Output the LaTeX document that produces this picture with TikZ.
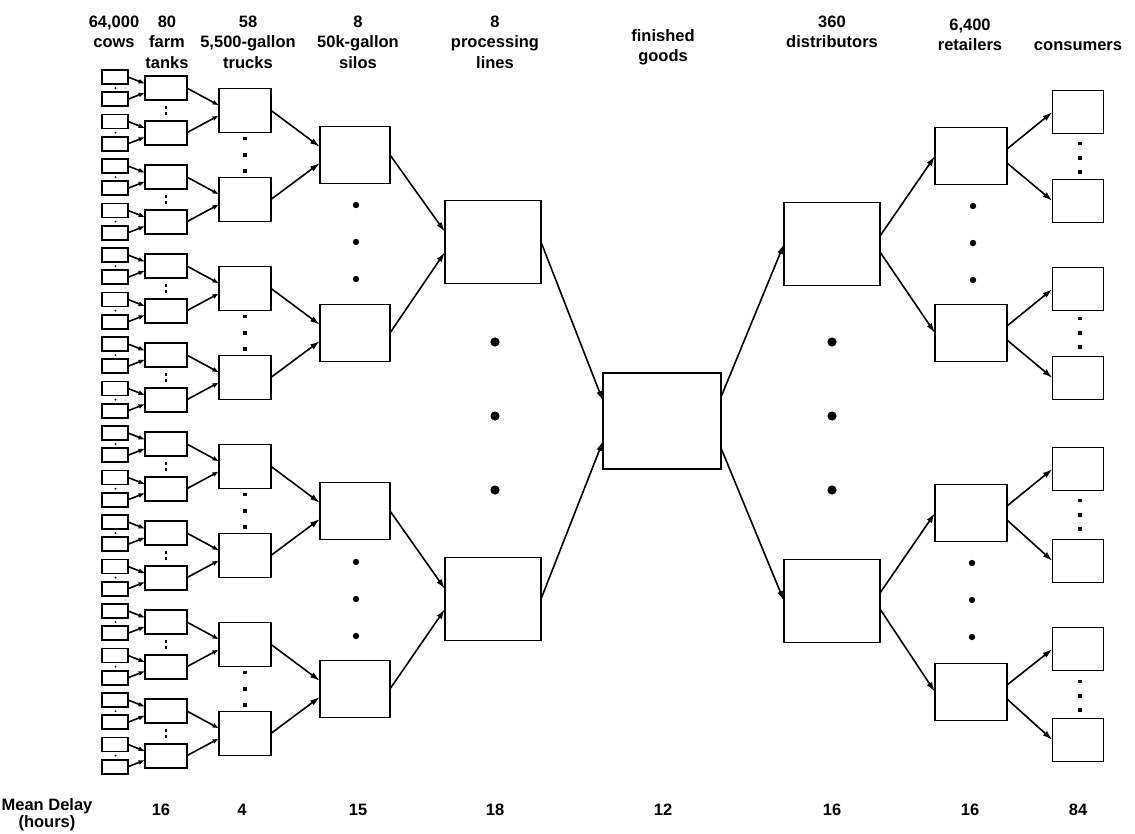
\documentclass[tikz,border=0pt]{standalone}
\usepackage{fontspec}
\setmainfont{Liberation Sans}
\usetikzlibrary{arrows.meta}
\begin{document}
\begin{tikzpicture}[x=1pt,y=-1pt,
  box/.style={draw,line width=1.8pt,inner sep=0pt,outer sep=0pt,fill=white},
  cowbox/.style={box,line width=1.6pt,minimum width=26pt,minimum height=14pt},
  tankbox/.style={box,minimum width=42pt,minimum height=24pt},
  truckbox/.style={box,minimum width=52pt,minimum height=44pt},
  silobox/.style={box,minimum width=70pt,minimum height=57pt},
  linebox/.style={box,minimum width=96pt,minimum height=83pt},
  goodsbox/.style={box,minimum width=118pt,minimum height=96pt},
  retbox/.style={box,minimum width=72pt,minimum height=57pt},
  consbox/.style={box,minimum width=51pt,minimum height=43pt},
  arrS/.style={line width=1.6pt,-{Latex[length=6.5pt,width=5pt]}},
  arr/.style={line width=1.6pt,-{Latex[length=10pt,width=6pt]}},
  lbl/.style={font=\fontsize{16.5}{20}\selectfont\bfseries,anchor=base,inner sep=0pt},
]
\useasboundingbox (0,0) rectangle (1135,833);

% ---------- left tree ----------
\foreach \i in {0,...,31} {
  \pgfmathsetmacro\cy{77+22.25*\i}
  \node[cowbox] (cow\i) at (115,\cy) {};
}
\foreach \j in {0,...,15} {
  \pgfmathsetmacro\ty{88.1+44.5*\j}
  \pgfmathtruncatemacro\a{2*\j}
  \pgfmathtruncatemacro\b{2*\j+1}
  \node[tankbox] (tank\j) at (166,\ty) {};
  \draw[arrS] (cow\a.east) -- ([yshift=4.5pt]tank\j.west);
  \draw[arrS] (cow\b.east) -- ([yshift=-4.5pt]tank\j.west);
  \fill (115.5,\ty) circle (1.1pt);
}
\foreach \k in {0,...,7} {
  \pgfmathsetmacro\ky{110.4+89*\k}
  \pgfmathtruncatemacro\a{2*\k}
  \pgfmathtruncatemacro\b{2*\k+1}
  \node[truckbox] (truck\k) at (245,\ky) {};
  \draw[arrS] (tank\a.east) -- ([yshift=5pt]truck\k.west);
  \draw[arrS] (tank\b.east) -- ([yshift=-5pt]truck\k.west);
  \fill (164.6,\ky-4.4) rectangle +(2.8,2.8);
  \fill (164.6,\ky+1.6) rectangle +(2.8,2.8);
}
\foreach \m in {0,...,3} {
  \pgfmathsetmacro\my{154.9+178*\m}
  \pgfmathtruncatemacro\a{2*\m}
  \pgfmathtruncatemacro\b{2*\m+1}
  \node[silobox] (silo\m) at (355,\my) {};
  \draw[arr] (truck\a.east) -- ([yshift=8pt]silo\m.west);
  \draw[arr] (truck\b.east) -- ([yshift=-8pt]silo\m.west);
  \foreach \d in {-16.5,0,16} {
    \fill (243.2,\my+\d-1.8) rectangle +(3.6,3.6);
  }
}
\foreach \n/\ny in {0/242,1/599} {
  \pgfmathtruncatemacro\a{2*\n}
  \pgfmathtruncatemacro\b{2*\n+1}
  \node[linebox] (proc\n) at (493,\ny) {};
  \draw[arr] (silo\a.east) -- ([yshift=10pt]proc\n.west);
  \draw[arr] (silo\b.east) -- ([yshift=-10pt]proc\n.west);
  \foreach \d in {-37,0,37} {
    \fill (356,\ny+\d) circle (3.2pt);
  }
}

% ---------- centre ----------
\node[goodsbox] (goods) at (662,421) {};
\draw[arr] (proc0.east) -- ([yshift=20pt]goods.west);
\draw[arr] (proc1.east) -- ([yshift=-20pt]goods.west);
\foreach \d in {342,416,490} {
  \fill (495,\d) circle (4.6pt);
  \fill (832,\d) circle (4.6pt);
}

% ---------- right tree ----------
\node[linebox] (dist0) at (832,244) {};
\node[linebox] (dist1) at (832,601) {};
\draw[arr] ([yshift=24pt]goods.east) -- (dist0.west);
\draw[arr] ([yshift=-27pt]goods.east) -- (dist1.west);

\foreach \r/\ry in {0/156,1/333,2/513,3/692} {
  \node[retbox] (ret\r) at (971,\ry) {};
}
\draw[arr] ([yshift=8pt]dist0.east) -- (ret0.west);
\draw[arr] ([yshift=-8pt]dist0.east) -- (ret1.west);
\draw[arr] ([yshift=8pt]dist1.east) -- (ret2.west);
\draw[arr] ([yshift=-8pt]dist1.east) -- (ret3.west);
\foreach \d in {-37,0,37} {
  \fill (973,243+\d) circle (3.2pt);
  \fill (972,600+\d) circle (3.2pt);
}

\foreach \c/\cy in {0/112,1/201,2/289,3/378,4/469,5/561,6/649,7/740} {
  \node[consbox] (cons\c) at (1078,\cy) {};
}
\foreach \r in {0,...,3} {
  \pgfmathtruncatemacro\a{2*\r}
  \pgfmathtruncatemacro\b{2*\r+1}
  \draw[arr] ([yshift=7pt]ret\r.east) -- (cons\a.west);
  \draw[arr] ([yshift=-7pt]ret\r.east) -- (cons\b.west);
}
\foreach \cy in {158,333,515,696} {
  \foreach \d in {-14.5,0,14} {
    \fill (1078.2,\cy+\d-1.8) rectangle +(3.6,3.6);
  }
}

% ---------- headers ----------
\node[lbl] (hA1) at (114,27) {64,000};
\node[lbl] (hA2) at (114,47.5) {cows};
\node[lbl] (hB1) at (167,27) {80};
\node[lbl] (hB2) at (167,47.5) {farm};
\node[lbl] (hB3) at (167,68) {tanks};
\node[lbl] (hC1) at (248,27) {58};
\node[lbl] (hC2) at (248,47.5) {5,500-gallon};
\node[lbl] (hC3) at (248,68) {trucks};
\node[lbl] (hD1) at (358,27) {8};
\node[lbl] (hD2) at (358,47.5) {50k-gallon};
\node[lbl] (hD3) at (358,68) {silos};
\node[lbl] (hE1) at (495,27) {8};
\node[lbl] (hE2) at (495,47.5) {processing};
\node[lbl] (hE3) at (495,68) {lines};
\node[lbl] (hF1) at (663,41) {finished};
\node[lbl] (hF2) at (663,61) {goods};
\node[lbl] (hG1) at (832,27) {360};
\node[lbl] (hG2) at (832,47.5) {distributors};
\node[lbl] (hH1) at (970,30) {6,400};
\node[lbl] (hH2) at (970,50) {retailers};
\node[lbl] (hI1) at (1078,50) {consumers};

% ---------- bottom row ----------
\node[lbl] (mA) at (47,810) {Mean Delay};
\node[lbl] (mB) at (47,827) {(hours)};
\foreach \x/\v [count=\q] in {161/16,242/4,358/15,495/18,663/12,832/16,970/16,1078/84} {
  \node[lbl] (md\q) at (\x,815) {\v};
}
\end{tikzpicture}
\end{document}
